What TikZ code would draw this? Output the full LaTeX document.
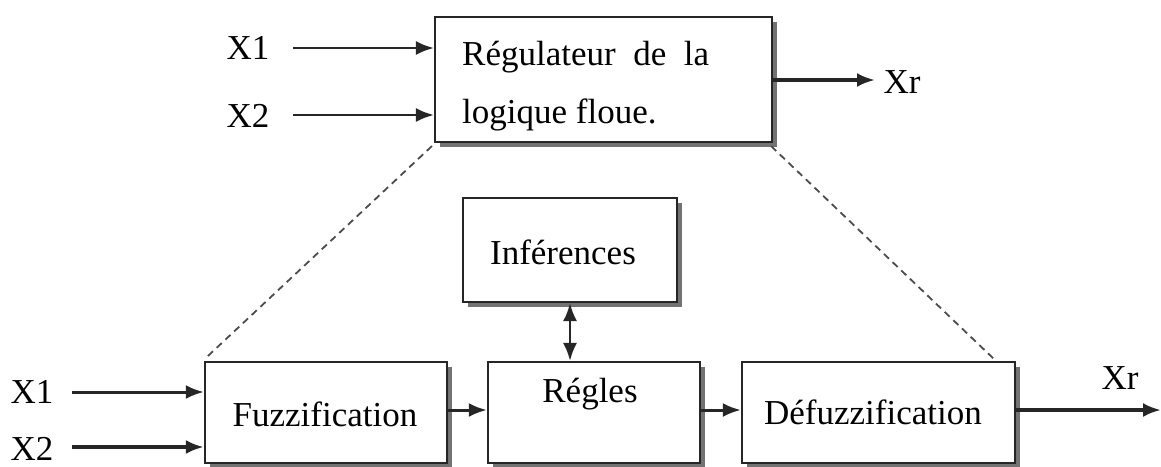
\documentclass[tikz,border=0pt]{standalone}
\usepackage{fontspec}
\setmainfont{Liberation Serif}
\usetikzlibrary{arrows.meta,shadows,calc}
\tikzset{
  blk/.style={draw=black!85, line width=2.2pt, fill=white, inner sep=0pt,
    drop shadow={shadow xshift=4.5pt, shadow yshift=-4.5pt, fill=black!55, opacity=1}},
  lbl/.style={font=\fontsize{35}{40}\selectfont, inner sep=0pt},
  txt/.style={font=\fontsize{35}{40}\selectfont, inner sep=0pt},
  arr/.style={line width=2.4pt, draw=black!85, -{Latex[length=18pt,width=14pt]}},
  dsh/.style={line width=1.8pt, draw=black!70, dash pattern=on 7pt off 5pt},
}
\begin{document}
\begin{tikzpicture}[x=1pt,y=-1pt]
\useasboundingbox (0,0) rectangle (1161,466);
% top block
\node[blk, minimum width=337pt, minimum height=125pt] (top) at (603.5,79.5) {};
\node[txt, anchor=west] (t1) at (462,57) {Régulateur\ \ de\ \ la};
\node[txt, anchor=west] (t2) at (462,115) {logique floue.};
\node[lbl] (tx1) at (248,48) {X1};
\node[lbl] (tx2) at (248,116) {X2};
\node[lbl] (txr) at (902,82) {Xr};
\coordinate (ta1) at (293,48);
\coordinate (ta2) at (293,115);
\coordinate (tao) at (875,80);
\draw[arr] (ta1) -- (ta1 -| top.west);
\draw[arr] (ta2) -- (ta2 -| top.west);
\draw[arr, line width=3.4pt] (top.east |- tao) -- (tao);
% bottom blocks
\node[blk, minimum width=242pt, minimum height=101pt] (fuz) at (326,412.5) {};
\node[txt] (fuzt) at (325,414) {Fuzzification};
\node[blk, minimum width=212pt, minimum height=101pt] (reg) at (594,412.5) {};
\node[txt] (regt) at (590,394) {Régles};
\node[blk, minimum width=214pt, minimum height=104pt] (inf) at (570,250) {};
\node[txt] (inft) at (563,252) {Inférences};
\node[blk, minimum width=273pt, minimum height=101pt] (def) at (878.5,412.5) {};
\node[txt] (deft) at (873,412) {Défuzzification};
\node[lbl] (bx1) at (32,392) {X1};
\node[lbl] (bx2) at (32,449) {X2};
\node[lbl] (bxr) at (1120,378) {Xr};
\coordinate (ba1) at (72,392);
\coordinate (ba2) at (72,447);
\coordinate (bao) at (1161,410);
\draw[arr, line width=3pt] (ba1) -- (ba1 -| fuz.west);
\draw[arr, line width=4pt] (ba2) -- (ba2 -| fuz.west);
\draw[arr, line width=3pt] (fuz.east |- 0,410) -- (reg.west |- 0,410);
\draw[arr, line width=3pt] (reg.east |- 0,410) -- (def.west |- 0,410);
\draw[arr, line width=3.4pt] (def.east |- bao) -- (bao);
\draw[line width=2.4pt, draw=black!85, {Latex[length=18pt,width=14pt]}-{Latex[length=18pt,width=14pt]}]
  (inf.south) -- (inf.south |- reg.north);
% dashed zoom lines
\coordinate (dr) at (995,360);
\draw[dsh] ($(top.south west)+(-2,3)$) -- ($(fuz.north west)+(2,-3)$);
\draw[dsh] ($(top.south east)+(-2,3)$) -- (dr);
\end{tikzpicture}
\end{document}
